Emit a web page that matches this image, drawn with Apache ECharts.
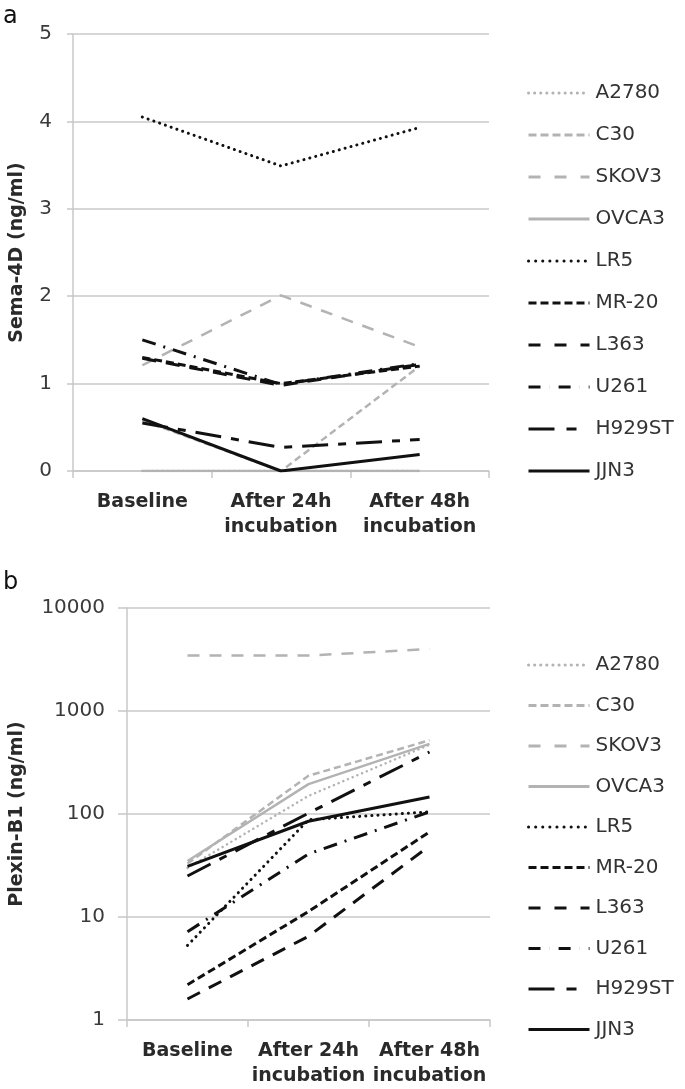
<!DOCTYPE html>
<html><head><meta charset="utf-8">
<script src="https://cdn.jsdelivr.net/npm/echarts@6/dist/echarts.min.js"></script>
<style>html,body{margin:0;padding:0;background:#fff}#c{width:685px;height:1089px}</style>
</head><body><div id="c"></div>
<script>
const categories = ['Baseline', 'After 24h\nincubation', 'After 48h\nincubation'];
const cellLines = ['A2780', 'C30', 'SKOV3', 'OVCA3', 'LR5', 'MR-20', 'L363', 'U261', 'H929ST', 'JJN3'];
const semaTicks = [0, 1, 2, 3, 4, 5];
const plexinTicks = [1, 10, 100, 1000, 10000];

// Panel a: Sema-4D (ng/ml)
const semaA2780 = [0, 0, 0];
const semaC30 = [0.58, 0, 1.2];
const semaSKOV3 = [1.21, 2.01, 1.42];
const semaOVCA3 = [0, 0, 0];
const semaLR5 = [4.05, 3.49, 3.93];
const semaMR20 = [1.3, 1.0, 1.2];
const semaL363 = [1.29, 0.98, 1.22];
const semaU261 = [1.5, 0.99, 1.23];
const semaH929ST = [0.55, 0.27, 0.36];
const semaJJN3 = [0.6, 0, 0.19];

// Panel b: Plexin-B1 (ng/ml)
const plexA2780 = [30, 150, 470];
const plexC30 = [33, 235, 520];
const plexSKOV3 = [3450, 3450, 4000];
const plexOVCA3 = [35, 195, 480];
const plexLR5 = [5.3, 88, 105];
const plexMR20 = [2.2, 11.3, 67];
const plexL363 = [1.6, 6.5, 49];
const plexU261 = [7.2, 41, 105];
const plexH929ST = [25, 102, 400];
const plexJJN3 = [31, 85, 146];

const semaData = [semaA2780, semaC30, semaSKOV3, semaOVCA3, semaLR5, semaMR20, semaL363, semaU261, semaH929ST, semaJJN3];
const plexData = [plexA2780, plexC30, plexSKOV3, plexOVCA3, plexLR5, plexMR20, plexL363, plexU261, plexH929ST, plexJJN3];

const GREY = '#b3b3b3', BLACK = '#111';
const styles = [
  {color: GREY, width: 2.5, type: [0.1, 5], cap: 'round'},
  {color: GREY, width: 2.5, type: [7, 4]},
  {color: GREY, width: 2.5, type: [12, 10]},
  {color: GREY, width: 2.5, type: 'solid'},
  {color: BLACK, width: 3, type: [0.1, 6], cap: 'round'},
  {color: BLACK, width: 3, type: [8, 4]},
  {color: BLACK, width: 3, type: [14, 10]},
  {color: BLACK, width: 3, type: [14, 8, 2, 8]},
  {color: BLACK, width: 3, type: [26, 10, 8, 10]},
  {color: BLACK, width: 3, type: 'solid'}
];
// legend icons use compressed versions of the same patterns
const legendTypes = [
  [0.1, 6], [8, 4], [12, 14], 'solid', [0.1, 7], [8, 4], [12, 14], [12, 9, 0.1, 9], [26, 12, 10], 'solid'
];

const FONT = 'DejaVu Sans';
const series = [];
function addSeries(dataArr, gi) {
  cellLines.forEach((name, i) => {
    series.push({
      name: name, type: 'line', xAxisIndex: gi, yAxisIndex: gi,
      data: dataArr[i], symbol: 'none', showSymbol: false, silent: true, animation: false,
      lineStyle: {color: styles[i].color, width: styles[i].width, type: styles[i].type, cap: styles[i].cap || 'butt'},
      itemStyle: {color: styles[i].color},
      z: 10 - (i < 4 ? 1 : 0)
    });
  });
}
addSeries(semaData, 0);
addSeries(plexData, 1);

const legendItems = cellLines.map((name, i) => ({
  name: name,
  itemStyle: {opacity: 0},
  lineStyle: {color: styles[i].color, width: 3, type: legendTypes[i], cap: styles[i].cap || 'butt', opacity: 1}
}));

const gridLineStyle = {color: '#c8c8c8', width: 1.5};
function xAxis(gi, margin) {
  return {
    type: 'category', gridIndex: gi, data: categories, boundaryGap: true,
    axisLine: {lineStyle: gridLineStyle},
    axisTick: {show: true, length: 7, lineStyle: gridLineStyle},
    axisLabel: {fontFamily: FONT, fontWeight: 'bold', fontSize: 19, color: '#2a2a2a', lineHeight: 25, margin: margin, interval: 0}
  };
}
const legendCommon = {
  orient: 'vertical', left: 522, itemWidth: 61, itemHeight: 20,
  itemStyle: {opacity: 0},
  textStyle: {fontFamily: FONT, fontSize: 20, color: '#333', padding: [0, 0, 0, 1]},
  selectedMode: false, data: legendItems
};

const option = {
  animation: false,
  backgroundColor: '#fff',
  grid: [
    {left: 65, right: 196, top: 34, bottom: 618},
    {left: 119, right: 195, top: 608, bottom: 67}
  ],
  xAxis: [xAxis(0, 19), xAxis(1, 19)],
  yAxis: [
    {
      type: 'value', gridIndex: 0, min: 0, max: 5, interval: 1,
      name: 'Sema-4D (ng/ml)', nameLocation: 'middle', nameGap: 46, nameRotate: 90,
      nameTextStyle: {fontFamily: FONT, fontWeight: 'bold', fontSize: 19, color: '#2a2a2a'},
      axisLine: {show: true, lineStyle: gridLineStyle},
      axisTick: {show: true, length: 6, lineStyle: gridLineStyle},
      splitLine: {lineStyle: gridLineStyle},
      axisLabel: {fontFamily: FONT, fontSize: 20, color: '#3a3a3a', margin: 21,
        formatter: v => semaTicks.includes(v) ? String(v) : ''}
    },
    {
      type: 'log', gridIndex: 1, min: 1, max: 10000, logBase: 10,
      name: 'Plexin-B1 (ng/ml)', nameLocation: 'middle', nameGap: 100, nameRotate: 90,
      nameTextStyle: {fontFamily: FONT, fontWeight: 'bold', fontSize: 19, color: '#2a2a2a'},
      axisLine: {show: true, lineStyle: gridLineStyle},
      axisTick: {show: true, length: 9, lineStyle: gridLineStyle},
      splitLine: {lineStyle: gridLineStyle},
      axisLabel: {fontFamily: FONT, fontSize: 20, color: '#3a3a3a', margin: 22,
        formatter: v => plexinTicks.includes(v) ? String(v) : ''}
    }
  ],
  legend: [
    Object.assign({}, legendCommon, {top: 78, itemGap: 22}),
    Object.assign({}, legendCommon, {top: 650, itemGap: 20.5})
  ],
  graphic: [
    {type: 'text', left: 3, top: 5, style: {text: 'a', fontFamily: FONT, fontSize: 24, fill: '#111'}},
    {type: 'text', left: 3, top: 571, style: {text: 'b', fontFamily: FONT, fontSize: 24, fill: '#111'}}
  ],
  series: series
};

const chart = echarts.init(document.getElementById('c'), null, {renderer: 'canvas'});
chart.setOption(option);
</script>
</body></html>
